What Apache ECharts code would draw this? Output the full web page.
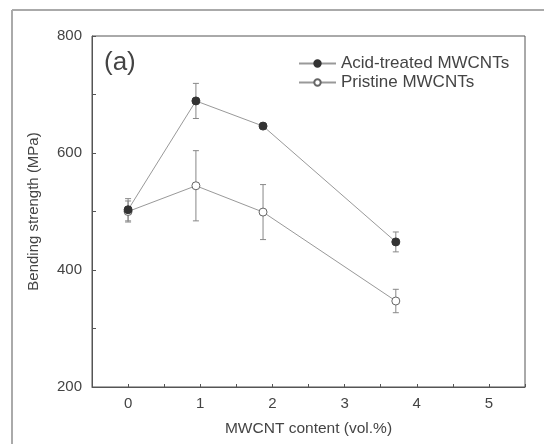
<!DOCTYPE html>
<html>
<head>
<meta charset="utf-8">
<script src="https://cdn.jsdelivr.net/npm/echarts@6/dist/echarts.min.js"></script>
<style>
html,body{margin:0;padding:0;background:#fff;}
#c{width:544px;height:444px;}
</style>
</head>
<body>
<div id="c"></div>
<script>
var contentVol = [0, 0.94, 1.87, 3.71];
var acidStrength = [503, 689, 646, 448];
var acidErr = [19, 30, 0, 17];
var pristineStrength = [500, 544, 499, 347];
var pristineErr = [18, 60, 47, 20];
var seriesNames = ['Acid-treated MWCNTs', 'Pristine MWCNTs'];
var panelLabel = '(a)';
var xName = 'MWCNT content (vol.%)';
var yName = 'Bending strength (MPa)';

function pts(ys) { return contentVol.map(function (x, i) { return [x, ys[i]]; }); }
function errs(ys, es) {
  var out = [];
  contentVol.forEach(function (x, i) { if (es[i] > 0) out.push([x, ys[i] - es[i], ys[i] + es[i]]); });
  return out;
}
function errRender(params, api) {
  var x = api.value(0);
  var lo = api.coord([x, api.value(1)]);
  var hi = api.coord([x, api.value(2)]);
  var cap = 3;
  var st = { stroke: '#888', lineWidth: 1 };
  return {
    type: 'group',
    children: [
      { type: 'line', shape: { x1: lo[0], y1: lo[1], x2: hi[0], y2: hi[1] }, style: st },
      { type: 'line', shape: { x1: lo[0] - cap, y1: lo[1], x2: lo[0] + cap, y2: lo[1] }, style: st },
      { type: 'line', shape: { x1: hi[0] - cap, y1: hi[1], x2: hi[0] + cap, y2: hi[1] }, style: st }
    ]
  };
}

var chart = echarts.init(document.getElementById('c'));
var txt = '#444';
chart.setOption({
  backgroundColor: '#fff',
  animation: false,
  textStyle: { fontFamily: 'Liberation Sans, Arial, sans-serif' },
  grid: { left: 92, right: 19, top: 36, bottom: 57, show: true, borderColor: '#555', borderWidth: 1 },
  graphic: [
    { type: 'line', shape: { x1: 12, y1: 10, x2: 544, y2: 10 }, style: { stroke: '#aaa', lineWidth: 2 } },
    { type: 'line', shape: { x1: 12, y1: 10, x2: 12, y2: 444 }, style: { stroke: '#aaa', lineWidth: 2 } },
    { type: 'text', left: 104, top: 50, style: { text: panelLabel, fontSize: 26, fill: txt, fontFamily: 'Liberation Sans, Arial, sans-serif' } }
  ],
  legend: {
    left: 293, top: 50, orient: 'vertical', itemWidth: 37, itemHeight: 8, itemGap: 2,
    data: seriesNames,
    textStyle: { fontSize: 17, color: txt, padding: [0, 0, 0, 0] }
  },
  xAxis: {
    type: 'value', min: -0.5, max: 5.5, interval: 0.5,
    name: xName, nameLocation: 'middle', nameGap: 34,
    nameTextStyle: { fontSize: 15.5, color: txt },
    axisLine: { onZero: false, lineStyle: { color: '#555' } },
    axisTick: { inside: true, length: 3, lineStyle: { color: '#555' } },
    axisLabel: {
      fontSize: 15, color: txt, margin: 9,
      formatter: function (v) { return (Math.abs(v - Math.round(v)) < 1e-6 && v >= 0) ? String(Math.round(v)) : ''; }
    },
    splitLine: { show: false }
  },
  yAxis: {
    type: 'value', min: 200, max: 800, interval: 100,
    name: yName, nameLocation: 'middle', nameGap: 51,
    nameTextStyle: { fontSize: 15, color: txt },
    axisLine: { show: true, onZero: false, lineStyle: { color: '#555' } },
    axisTick: { show: true, inside: true, length: 4, lineStyle: { color: '#555' } },
    axisLabel: {
      fontSize: 15, color: txt, margin: 10,
      formatter: function (v) { return v % 200 === 0 ? String(v) : ''; }
    },
    splitLine: { show: false }
  },
  series: [
    {
      name: seriesNames[0], type: 'line', data: pts(acidStrength), z: 4,
      symbol: 'circle', symbolSize: 8,
      lineStyle: { color: '#999', width: 1 },
      itemStyle: { color: '#333', borderColor: '#333', borderWidth: 1 }
    },
    {
      name: seriesNames[1], type: 'line', data: pts(pristineStrength), z: 3,
      symbol: 'circle', symbolSize: 8,
      lineStyle: { color: '#999', width: 1 },
      itemStyle: { color: '#fff', borderColor: '#666', borderWidth: 1 }
    },
    { type: 'custom', renderItem: errRender, data: errs(acidStrength, acidErr), z: 2, silent: true },
    { type: 'custom', renderItem: errRender, data: errs(pristineStrength, pristineErr), z: 2, silent: true }
  ]
});
</script>
</body>
</html>
